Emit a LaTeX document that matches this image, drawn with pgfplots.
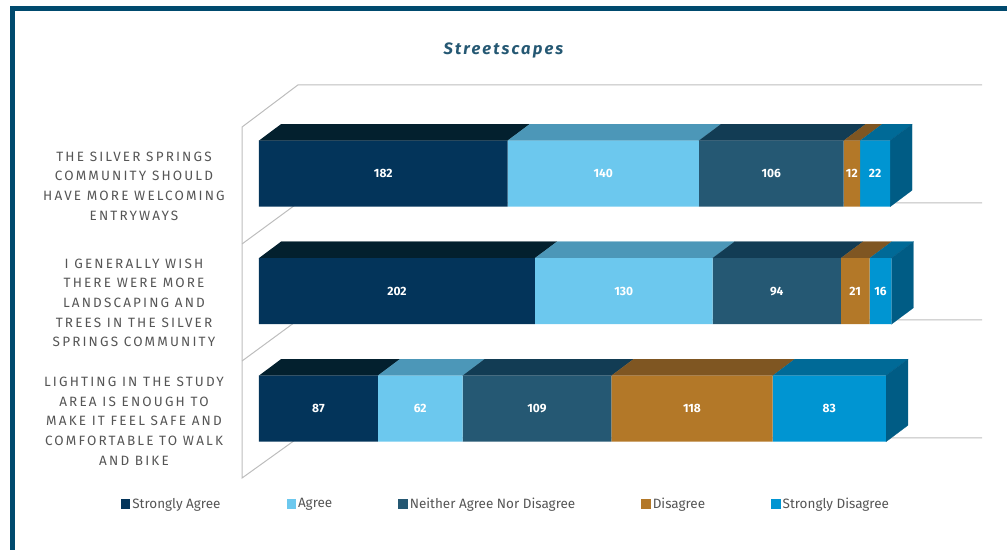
\documentclass[border=0pt]{standalone}
\usepackage{pgfplots}
\pgfplotsset{compat=1.18}
\usepackage{fontspec}
\setmainfont{Fira Sans}
\newfontfamily\lab[LetterSpace=16]{Fira Sans}
\newfontfamily\ttl[LetterSpace=13]{Fira Sans}
\definecolor{frameC}{HTML}{004A6E}
\definecolor{wall}{HTML}{BDBDBD}
\definecolor{txt}{HTML}{555555}
\definecolor{sa}{HTML}{03345A}\definecolor{saT}{HTML}{03202E}
\definecolor{ag}{HTML}{6CC8EE}\definecolor{agT}{HTML}{4C97B8}
\definecolor{ne}{HTML}{255873}\definecolor{neT}{HTML}{123C54}
\definecolor{di}{HTML}{B37828}\definecolor{diT}{HTML}{7F5622}
\definecolor{sd}{HTML}{0095D2}\definecolor{sdT}{HTML}{006A97}\definecolor{sdS}{HTML}{005C85}
\pgfplotsset{base/.style={
  scale only axis,width=1007pt,height=550pt,
  xmin=-189.6,xmax=547.6,ymin=-1.2026,ymax=3.478,
  hide axis,clip=false}}
\tikzset{face/.style={fill=#1,draw=#1,line width=0.2pt}}
\begin{document}
\begin{tikzpicture}
% walls and faces
\begin{axis}[base]
\path (rel axis cs:0,0) rectangle (rel axis cs:1,1);
\fill[frameC] (rel axis cs:0.00993,0) rectangle (rel axis cs:0.0149,0.9806);
\fill[frameC] (rel axis cs:0.00993,0.9806) rectangle (rel axis cs:1,0.9896);
\addplot[wall,line width=1pt] coordinates {(529.3,2.755)(28.5,2.755)(-12.4,2.397)(-12.4,-0.590)(28.5,-0.249)(529.3,-0.249)};
\addplot[wall,line width=1pt] coordinates {(-12.4,1.402)(28.5,1.751)(529.3,1.751)};
\addplot[wall,line width=1pt] coordinates {(-12.4,0.406)(28.5,0.755)(529.3,0.755)};
% top faces, bar 1
\addplot[face=saT] coordinates {(0,2.2815)(182,2.2815)(198.1,2.4215)(16.1,2.4215)};
\addplot[face=agT] coordinates {(182,2.2815)(322,2.2815)(338.1,2.4215)(198.1,2.4215)};
\addplot[face=neT] coordinates {(322,2.2815)(428,2.2815)(444.1,2.4215)(338.1,2.4215)};
\addplot[face=diT] coordinates {(428,2.2815)(440,2.2815)(456.1,2.4215)(444.1,2.4215)};
\addplot[face=sdT] coordinates {(440,2.2815)(462,2.2815)(478.1,2.4215)(456.1,2.4215)};
\addplot[face=sdS] coordinates {(462,2.2815)(478.1,2.4215)(478.1,1.8585)(462,1.7185)};
% bar 2
\addplot[face=saT] coordinates {(0,1.2815)(202,1.2815)(218.1,1.4215)(16.1,1.4215)};
\addplot[face=agT] coordinates {(202,1.2815)(332,1.2815)(348.1,1.4215)(218.1,1.4215)};
\addplot[face=neT] coordinates {(332,1.2815)(426,1.2815)(442.1,1.4215)(348.1,1.4215)};
\addplot[face=diT] coordinates {(426,1.2815)(447,1.2815)(463.1,1.4215)(442.1,1.4215)};
\addplot[face=sdT] coordinates {(447,1.2815)(463,1.2815)(479.1,1.4215)(463.1,1.4215)};
\addplot[face=sdS] coordinates {(463,1.2815)(479.1,1.4215)(479.1,0.8585)(463,0.7185)};
% bar 3
\addplot[face=saT] coordinates {(0,0.2815)(87,0.2815)(103.1,0.4215)(16.1,0.4215)};
\addplot[face=agT] coordinates {(87,0.2815)(149,0.2815)(165.1,0.4215)(103.1,0.4215)};
\addplot[face=neT] coordinates {(149,0.2815)(258,0.2815)(274.1,0.4215)(165.1,0.4215)};
\addplot[face=diT] coordinates {(258,0.2815)(376,0.2815)(392.1,0.4215)(274.1,0.4215)};
\addplot[face=sdT] coordinates {(376,0.2815)(459,0.2815)(475.1,0.4215)(392.1,0.4215)};
\addplot[face=sdS] coordinates {(459,0.2815)(475.1,0.4215)(475.1,-0.1415)(459,-0.2815)};
\end{axis}
% front faces
\begin{axis}[base,xbar stacked,bar width=66pt,
  legend columns=5,
  legend image code/.code={\fill[#1,draw=none] (0pt,-4.8pt) rectangle (9.5pt,4.8pt);},
  legend style={at={(rel axis cs:0.1198,0.0835)},anchor=west,draw=none,fill=none,inner sep=0pt,
    font=\fontsize{13.5}{15}\selectfont\color{txt},
    /tikz/every even column/.append style={column sep=64pt},
    cells={anchor=west}}]
\addplot[fill=sa,draw=none] coordinates {(87,0)(202,1)(182,2)};
\addplot[fill=ag,draw=none] coordinates {(62,0)(130,1)(140,2)};
\addplot[fill=ne,draw=none] coordinates {(109,0)(94,1)(106,2)};
\addplot[fill=di,draw=none] coordinates {(118,0)(21,1)(12,2)};
\addplot[fill=sd,draw=none] coordinates {(83,0)(16,1)(22,2)};
\legend{Strongly Agree,Agree,Neither Agree Nor Disagree,Disagree,Strongly Disagree}
\end{axis}
% text
\begin{axis}[base]
\addplot[only marks,mark=none,point meta=explicit symbolic,
  nodes near coords,
  every node near coord/.style={anchor=center,text=white,font=\fontsize{12}{14}\selectfont\bfseries}]
 coordinates {
 (91,2)[182] (252,2)[140] (375,2)[106] (434,2)[12] (451,2)[22]
 (101,1)[202] (267,1)[130] (379,1)[94] (436.5,1)[21] (455,1)[16]
 (43.5,0)[87] (118,0)[62] (203.5,0)[109] (317,0)[118] (417.5,0)[83]};
\node[text=txt,align=center,font=\fontsize{13.5}{19.7}\selectfont\lab] at (axis cs:-91.5,1.895) {THE SILVER SPRINGS\\COMMUNITY SHOULD\\HAVE MORE WELCOMING\\ENTRYWAYS};
\node[text=txt,align=center,font=\fontsize{13.5}{19.7}\selectfont\lab] at (axis cs:-91.5,0.90) {I GENERALLY WISH\\THERE WERE MORE\\LANDSCAPING AND\\TREES IN THE SILVER\\SPRINGS COMMUNITY};
\node[text=txt,align=center,font=\fontsize{13.5}{19.7}\selectfont\lab] at (axis cs:-91.5,-0.105) {LIGHTING IN THE STUDY\\AREA IS ENOUGH TO\\MAKE IT FEEL SAFE AND\\COMFORTABLE TO WALK\\AND BIKE};
\node[text=ne,font=\fontsize{16.5}{18}\selectfont\ttl\bfseries\itshape] at (rel axis cs:0.5,0.9075) {Streetscapes};
\end{axis}
\end{tikzpicture}
\end{document}
